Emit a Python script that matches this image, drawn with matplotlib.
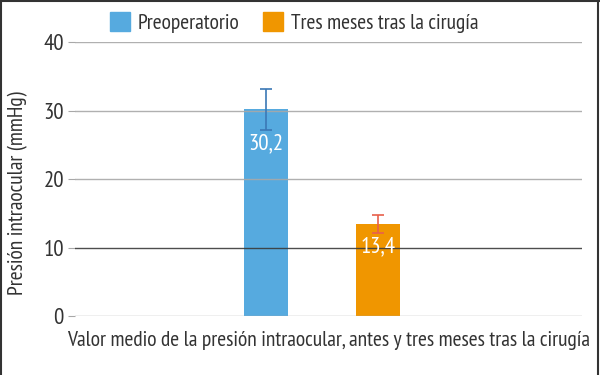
import matplotlib
matplotlib.use("Agg")
import matplotlib.pyplot as plt
from matplotlib.patches import Patch
from matplotlib.lines import Line2D

plt.rcParams['font.family'] = ['PT Sans Narrow', 'Archivo Narrow', 'DejaVu Sans']

groups = ["Preoperatorio", "Tres meses tras la cirugía"]
means = [30.2, 13.4]
errors = [3.0, 1.3]
labels = ["30,2", "13,4"]
bar_colors = ["#56aadf", "#f09600"]
err_colors = ["#3b78b5", "#e8604c"]

fs = 15.5
txt = "#333333"

fig = plt.figure(figsize=(6, 3.75), dpi=100)
ax = fig.add_axes([0.125, 0.157, 0.845, 0.731])

xs = [0, 1]
for x, m, e, lab, bc, ec in zip(xs, means, errors, labels, bar_colors, err_colors):
    ax.bar(x, m, width=0.39, color=bc, zorder=1)
    ax.errorbar(x, m, yerr=e, color=ec, capsize=4, elinewidth=1.2, capthick=1.2, zorder=4)
    # value sits just under the lower whisker
    ax.text(x, m - e - 0.45, lab, color="white", ha="center", va="top", fontsize=16.5, zorder=5)

# gridlines drawn on top of the bars
for y in [0, 10, 20, 30, 40]:
    c = "#3a3a3a" if y == 10 else "#a8a8a8"
    ax.axhline(y, color=c, lw=1.0, alpha=0.9, zorder=3)

ax.set_xlim(-1.705, 2.82)
ax.set_ylim(0, 40)
ax.set_yticks([0, 10, 20, 30, 40])
ax.tick_params(axis="y", length=5, color="#a8a8a8", labelsize=16.5, labelcolor=txt, pad=3)
ax.set_xticks([])
for s in ax.spines.values():
    s.set_visible(False)

ax.set_xlabel("Valor medio de la presión intraocular, antes y tres meses tras la cirugía",
              fontsize=fs, color=txt)
ax.xaxis.set_label_coords(0.5, -0.055)
ax.xaxis.label.set_va("top")
ax.set_ylabel("Presión intraocular (mmHg)", fontsize=fs, color=txt)
ax.yaxis.set_label_coords(-0.092, 0.45)

handles = [Patch(color=c) for c in bar_colors]
fig.legend(handles, groups, loc="center", bbox_to_anchor=(0.49, 0.94), ncol=2, frameon=False,
           fontsize=fs, handlelength=0.95, handleheight=0.95, columnspacing=1.1, handletextpad=0.35,
           labelcolor=txt)

# frame around the figure: left, top and right
fig.add_artist(Line2D([0.002, 0.002], [0, 1], color="#333333", lw=1.5, transform=fig.transFigure))
fig.add_artist(Line2D([0, 1], [0.998, 0.998], color="#333333", lw=1.5, transform=fig.transFigure))
fig.add_artist(Line2D([0.997, 0.997], [0, 1], color="#333333", lw=1.5, transform=fig.transFigure))

fig.savefig("out.png", dpi=100)
